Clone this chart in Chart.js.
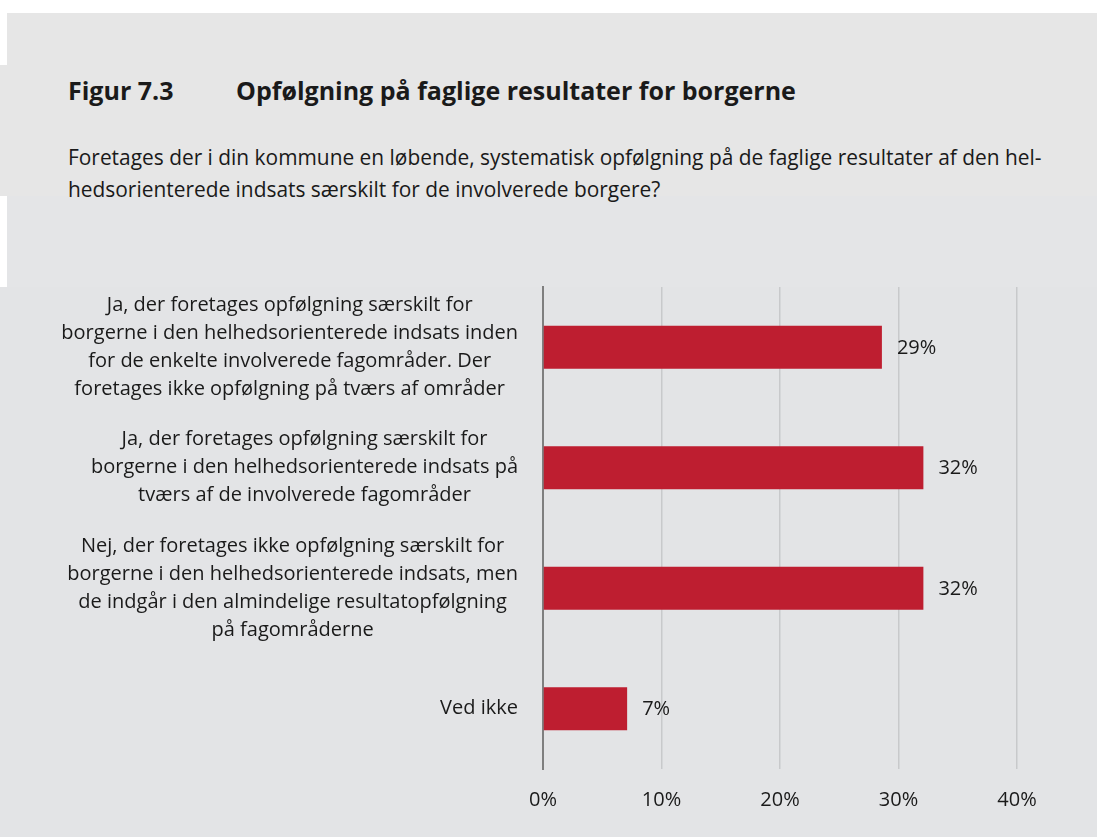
<!DOCTYPE html>
<html lang="da">
<head>
<meta charset="utf-8">
<title>Figur 7.3</title>
<script src="https://cdn.jsdelivr.net/npm/chart.js@4.4.1/dist/chart.umd.min.js"></script>
<style>
  html, body { margin: 0; padding: 0; background: #fff; }
  body { width: 1097px; height: 837px; position: relative; overflow: hidden; font-family: "Open Sans", "Noto Sans", sans-serif; color: #1a1a1a; }
  .panel-top { position: absolute; left: 7px; top: 13px; width: 1090px; height: 52px; background: #e6e6e6; }
  .panel-upper { position: absolute; left: 0; top: 65px; width: 1097px; height: 131px; background: #e6e6e6; }
  .panel-mid { position: absolute; left: 7px; top: 196px; width: 1090px; height: 91px; background: #e4e5e7; }
  .panel-chart { position: absolute; left: 0; top: 287px; width: 1097px; height: 550px; background: #e3e4e6; }
  .title { position: absolute; left: 68px; top: 73px; font-size: 25px; line-height: 34px; font-weight: 700; white-space: nowrap; }
  .title .num { display: inline-block; width: 168px; }
  .subtitle { position: absolute; left: 68px; top: 141px; font-size: 20.9px; line-height: 32px; white-space: nowrap; }
  .chart-box { position: absolute; left: 0; top: 260px; width: 1097px; height: 577px; }
</style>
</head>
<body>
<div class="panel-top"></div>
<div class="panel-upper"></div>
<div class="panel-mid"></div>
<div class="panel-chart"></div>
<div class="title"><span class="num">Figur 7.3</span>Opfølgning på faglige resultater for borgerne</div>
<div class="subtitle">Foretages der i din kommune en løbende, systematisk opfølgning på de faglige resultater af den hel-<br>hedsorienterede indsats særskilt for de involverede borgere?</div>
<div class="chart-box"><canvas id="chart" width="1097" height="577"></canvas></div>

<script>
// Categories (one array of lines per answer)
const categories = [
  ["Ja, der foretages opfølgning særskilt for", "borgerne i den helhedsorienterede indsats inden", "for de enkelte involverede fagområder. Der", "foretages ikke opfølgning på tværs af områder"],
  ["Ja, der foretages opfølgning særskilt for", "borgerne i den helhedsorienterede indsats på", "tværs af de involverede fagområder"],
  ["Nej, der foretages ikke opfølgning særskilt for", "borgerne i den helhedsorienterede indsats, men", "de indgår i den almindelige resultatopfølgning", "på fagområderne"],
  ["Ved ikke"]
]

// Share of answers (%)
const values = [28.6, 32.1, 32.1, 7.1]
const valueLabels = ["29%", "32%", "32%", "7%"]

// X axis ticks
const xTicks = [0, 10, 20, 30, 40]

const FONT = "'Open Sans', 'Noto Sans', sans-serif"
const TEXT = "#1a1a1a"
const SIZE = 20

// Category labels: block right-aligned, lines centred inside the block
const categoryLabels = {
  id: "categoryLabels",
  afterDraw(chart) {
    const { ctx, scales: { y } } = chart
    ctx.save()
    ctx.font = SIZE + "px " + FONT
    ctx.fillStyle = TEXT
    ctx.textAlign = "center"
    ctx.textBaseline = "middle"
    const right = 518
    const lh = 28
    categories.forEach((lines, i) => {
      const yc = y.getPixelForValue(i)
      const w = Math.max(...lines.map(l => ctx.measureText(l).width))
      const cx = right - w / 2
      const top = yc - (lines.length - 1) * lh / 2
      lines.forEach((l, j) => ctx.fillText(l, cx, top + j * lh))
    })
    ctx.restore()
  }
}

// Value labels at end of bars
const valueLabelPlugin = {
  id: "valueLabels",
  afterDatasetsDraw(chart) {
    const { ctx } = chart
    const meta = chart.getDatasetMeta(0)
    ctx.save()
    ctx.font = SIZE + "px " + FONT
    ctx.fillStyle = TEXT
    ctx.textAlign = "left"
    ctx.textBaseline = "middle"
    meta.data.forEach((bar, i) => {
      ctx.fillText(valueLabels[i], bar.x + 15, bar.y + 1)
    })
    ctx.restore()
  }
}

new Chart(document.getElementById("chart"), {
  type: "bar",
  data: {
    labels: categories.map(c => c.join(" ")),
    datasets: [{
      data: values,
      backgroundColor: "#be1e30",
      borderWidth: 0,
      categoryPercentage: 1,
      barPercentage: 0.357
    }]
  },
  options: {
    indexAxis: "y",
    responsive: false,
    animation: false,
    events: [],
    layout: { padding: { left: 0, right: 80, top: 27, bottom: 0 } },
    plugins: { legend: { display: false }, tooltip: { enabled: false } },
    scales: {
      x: {
        min: 0,
        max: 40,
        afterBuildTicks: scale => { scale.ticks = xTicks.map(v => ({ value: v })) },
        afterFit: scale => { scale.height = 68 },
        grid: { color: "#c8c9cb", lineWidth: 1.5, drawTicks: false },
        border: { display: false },
        ticks: {
          padding: 19,
          color: TEXT,
          font: { family: FONT, size: SIZE },
          callback: v => v + "%"
        }
      },
      y: {
        afterFit: scale => { scale.width = 543 },
        grid: { display: false },
        border: { display: true, color: "#7f7f7f", width: 2 },
        ticks: { display: false }
      }
    }
  },
  plugins: [categoryLabels, valueLabelPlugin]
})
</script>
</body>
</html>
